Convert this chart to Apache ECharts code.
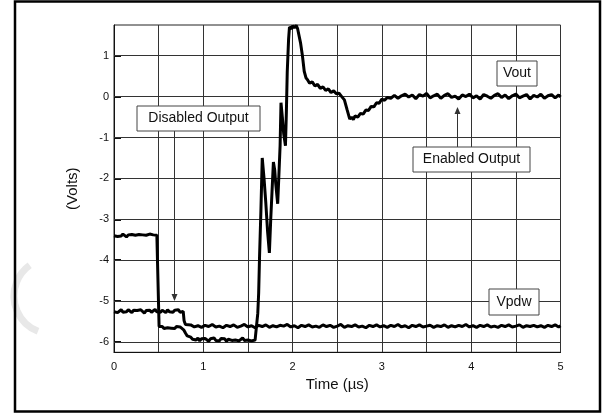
<!DOCTYPE html>
<html>
<head>
<meta charset="utf-8">
<script src="https://cdn.jsdelivr.net/npm/echarts@6/dist/echarts.min.js"></script>
<style>html,body{margin:0;padding:0;background:#fff}#c{width:615px;height:415px}</style>
</head>
<body>
<div id="c"></div>
<script>
// ---- data (time in µs, volts) ----
const xTicks = [0, 1, 2, 3, 4, 5];
const yTicks = [-6, -5, -4, -3, -2, -1, 0, 1];

const voutPoints = [
[0.00,-3.40],[0.02,-3.37],[0.04,-3.42],[0.06,-3.38],[0.08,-3.41],[0.10,-3.36],[0.12,-3.40],[0.14,-3.43],[0.16,-3.38],[0.18,-3.40],
[0.20,-3.37],[0.22,-3.41],[0.24,-3.39],[0.26,-3.42],[0.28,-3.37],[0.30,-3.40],[0.32,-3.38],[0.34,-3.42],[0.36,-3.39],[0.38,-3.41],
[0.40,-3.36],[0.42,-3.40],[0.44,-3.38],[0.46,-3.41],[0.48,-3.39],[0.50,-3.40],[0.505,-5.62],[0.52,-5.66],[0.54,-5.62],[0.56,-5.67],
[0.58,-5.63],[0.60,-5.65],[0.62,-5.61],[0.64,-5.66],[0.66,-5.63],[0.68,-5.67],[0.70,-5.62],[0.72,-5.65],[0.74,-5.63],[0.76,-5.66],
[0.78,-5.70],[0.80,-5.78],[0.82,-5.85],[0.84,-5.83],[0.86,-5.88],[0.88,-5.93],[0.90,-5.96],
[0.92,-5.95],[0.94,-5.90],[0.96,-5.97],[0.98,-5.92],[1.00,-5.96],[1.02,-5.91],[1.04,-5.95],[1.06,-5.98],[1.08,-5.92],[1.10,-5.94],
[1.12,-5.90],[1.14,-5.96],[1.16,-5.93],[1.18,-5.97],[1.20,-5.91],[1.22,-5.95],[1.24,-5.92],[1.26,-5.98],[1.28,-5.93],[1.30,-5.90],
[1.32,-5.96],[1.34,-5.92],[1.36,-5.95],[1.38,-5.91],[1.40,-5.97],[1.42,-5.93],[1.44,-5.90],[1.46,-5.96],[1.48,-5.92],[1.50,-5.95],
[1.52,-5.91],[1.54,-5.97],[1.56,-5.93],[1.58,-5.95],[1.60,-5.92],
[1.61,-5.30],[1.62,-4.80],[1.63,-3.90],[1.645,-2.80],[1.66,-1.50],[1.68,-2.00],[1.70,-2.60],[1.72,-3.30],[1.74,-3.82],[1.755,-3.00],
[1.77,-2.30],[1.785,-1.60],[1.80,-1.80],[1.81,-2.10],[1.833,-2.62],[1.845,-2.00],[1.86,-1.20],[1.87,-0.15],[1.885,-0.50],[1.90,-0.90],
[1.92,-1.20],[1.93,-0.40],[1.94,0.60],[1.955,1.40],[1.965,1.70],[1.975,1.74],[1.99,1.66],[2.00,1.73],[2.02,1.68],[2.04,1.74],
[2.055,1.67],[2.07,1.71],[2.09,1.30],[2.11,1.00],[2.13,0.62],[2.15,0.46],[2.17,0.40],[2.19,0.33],[2.22,0.36],[2.25,0.26],
[2.28,0.30],[2.31,0.20],[2.34,0.24],[2.37,0.15],[2.40,0.19],[2.43,0.10],[2.46,0.14],[2.49,0.07],[2.52,0.08],[2.55,0.00],
[2.58,-0.08],[2.61,-0.32],[2.64,-0.55],[2.66,-0.50],[2.68,-0.56],[2.70,-0.47],[2.73,-0.50],[2.76,-0.41],[2.79,-0.43],[2.82,-0.33],
[2.85,-0.34],[2.88,-0.24],[2.91,-0.25],[2.94,-0.15],[2.97,-0.16],[3.00,-0.06],[3.03,-0.09],[3.06,-0.02],[3.10,-0.04],
[3.14,0.03],[3.18,-0.04],[3.22,0.02],[3.26,0.06],[3.30,-0.01],[3.34,0.04],[3.38,-0.05],[3.42,0.05],[3.46,0.01],[3.50,0.08],
[3.54,-0.03],[3.58,0.02],[3.62,0.06],[3.66,-0.04],[3.70,0.03],[3.74,0.07],[3.78,-0.02],[3.82,0.01],[3.86,-0.06],[3.90,0.04],
[3.94,0.00],[3.98,0.06],[4.02,-0.03],[4.06,0.02],[4.10,-0.06],[4.14,0.05],[4.18,0.01],[4.22,-0.04],[4.26,0.03],[4.30,0.07],
[4.34,-0.02],[4.38,0.04],[4.42,-0.05],[4.46,0.02],[4.50,0.06],[4.54,-0.03],[4.58,0.01],[4.62,0.05],[4.66,-0.06],[4.70,0.03],
[4.74,-0.01],[4.78,0.06],[4.82,-0.04],[4.86,0.02],[4.90,0.05],[4.94,-0.03],[4.98,0.04],[5.00,-0.01]
];

const vpdwPoints = [
[0.00,-5.26],[0.02,-5.22],[0.04,-5.28],[0.06,-5.24],[0.08,-5.21],[0.10,-5.27],[0.12,-5.23],[0.14,-5.26],[0.16,-5.21],[0.18,-5.25],
[0.20,-5.28],[0.22,-5.22],[0.24,-5.26],[0.26,-5.23],[0.28,-5.27],[0.30,-5.21],[0.32,-5.25],[0.34,-5.29],[0.36,-5.23],[0.38,-5.26],
[0.40,-5.22],[0.42,-5.27],[0.44,-5.24],[0.46,-5.20],[0.48,-5.26],[0.50,-5.23],[0.52,-5.27],[0.54,-5.22],[0.56,-5.25],[0.58,-5.28],
[0.60,-5.21],[0.62,-5.26],[0.64,-5.23],[0.66,-5.27],[0.68,-5.22],[0.70,-5.25],[0.72,-5.21],[0.74,-5.27],[0.76,-5.24],[0.775,-5.25],
[0.785,-5.48],[0.80,-5.57],[0.82,-5.60],
[0.86,-5.58],[0.90,-5.63],[0.94,-5.60],[0.98,-5.64],[1.02,-5.59],[1.06,-5.62],[1.10,-5.57],[1.14,-5.63],[1.18,-5.61],[1.22,-5.65],
[1.26,-5.59],[1.30,-5.62],[1.34,-5.58],[1.38,-5.64],[1.42,-5.61],[1.46,-5.57],[1.50,-5.63],[1.54,-5.60],[1.58,-5.65],[1.62,-5.59],
[1.66,-5.62],[1.70,-5.58],[1.74,-5.64],[1.78,-5.60],[1.82,-5.63],[1.86,-5.59],[1.90,-5.61],[1.94,-5.57],[1.98,-5.63],[2.02,-5.60],
[2.06,-5.65],[2.10,-5.59],[2.14,-5.62],[2.18,-5.58],[2.22,-5.63],[2.26,-5.61],[2.30,-5.64],[2.34,-5.58],[2.38,-5.62],[2.42,-5.59],
[2.46,-5.64],[2.50,-5.61],[2.54,-5.57],[2.58,-5.64],[2.62,-5.60],[2.66,-5.62],[2.70,-5.58],[2.74,-5.63],[2.78,-5.61],[2.82,-5.65],
[2.86,-5.59],[2.90,-5.62],[2.94,-5.58],[2.98,-5.63],[3.02,-5.60],[3.06,-5.64],[3.10,-5.59],[3.14,-5.62],[3.18,-5.57],[3.22,-5.63],
[3.26,-5.60],[3.30,-5.65],[3.34,-5.59],[3.38,-5.62],[3.42,-5.58],[3.46,-5.63],[3.50,-5.61],[3.54,-5.59],[3.58,-5.64],[3.62,-5.60],
[3.66,-5.62],[3.70,-5.58],[3.74,-5.64],[3.78,-5.60],[3.82,-5.63],[3.86,-5.59],[3.90,-5.62],[3.94,-5.57],[3.98,-5.63],[4.02,-5.60],
[4.06,-5.64],[4.10,-5.59],[4.14,-5.62],[4.18,-5.58],[4.22,-5.63],[4.26,-5.61],[4.30,-5.64],[4.34,-5.59],[4.38,-5.62],[4.42,-5.58],
[4.46,-5.63],[4.50,-5.61],[4.54,-5.58],[4.58,-5.64],[4.62,-5.60],[4.66,-5.62],[4.70,-5.59],[4.74,-5.63],[4.78,-5.60],[4.82,-5.64],
[4.86,-5.59],[4.90,-5.62],[4.94,-5.58],[4.98,-5.63],[5.00,-5.60]
];

const FONT = "'Liberation Sans', Arial, sans-serif";
const chart = echarts.init(document.getElementById('c'), null, {renderer: 'canvas'});

function box(x, y, w, h, label) {
  return [
    {type: 'rect', shape: {x: x, y: y, width: w, height: h}, style: {fill: '#fff', stroke: '#444', lineWidth: 1}, z: 100},
    {type: 'text', x: x + w / 2, y: y + h / 2, style: {text: label, font: '14px ' + FONT, fill: '#111', align: 'center', verticalAlign: 'middle'}, z: 101}
  ];
}

const option = {
  animation: false,
  backgroundColor: '#fff',
  grid: {left: 114, right: 54.5, top: 25, bottom: 62.7, show: true, borderColor: '#222', borderWidth: 1, backgroundColor: 'transparent'},
  xAxis: {
    type: 'value', min: 0, max: 5, interval: 0.5,
    name: 'Time (µs)', nameLocation: 'middle', nameGap: 20,
    nameTextStyle: {fontFamily: FONT, fontSize: 15, color: '#111'},
    axisLine: {show: true, onZero: false, lineStyle: {color: '#111', width: 1}},
    axisTick: {show: false},
    splitLine: {show: true, lineStyle: {color: '#333', width: 1}},
    axisLabel: {fontFamily: FONT, fontSize: 11, color: '#111', margin: 9,
      formatter: v => (xTicks.indexOf(v) >= 0 ? String(v) : '')}
  },
  yAxis: {
    type: 'value', min: -6.25, max: 1.75,
    name: '(Volts)', nameLocation: 'middle', nameGap: 34, nameRotate: 90,
    nameTextStyle: {fontFamily: FONT, fontSize: 15, color: '#111'},
    axisLine: {show: true, onZero: false, lineStyle: {color: '#111', width: 1}},
    axisTick: {show: true, inside: true, length: 7, customValues: yTicks, lineStyle: {color: '#111', width: 2}},
    splitLine: {show: false},
    axisLabel: {fontFamily: FONT, fontSize: 11, color: '#111', margin: 5, customValues: yTicks}
  },
  series: [
    {
      name: 'grid', type: 'line', data: [], silent: true,
      markLine: {silent: true, symbol: 'none', animation: false, label: {show: false},
        lineStyle: {color: '#333', width: 1, type: 'solid'},
        data: yTicks.map(v => ({yAxis: v}))}
    },
    {name: 'Vpdw', type: 'line', data: vpdwPoints, showSymbol: false, clip: true,
      lineStyle: {color: '#000', width: 3}, z: 5},
    {name: 'Vout', type: 'line', data: voutPoints, showSymbol: false, clip: true,
      lineStyle: {color: '#000', width: 3}, z: 6}
  ],
  graphic: [
    {type: 'arc', shape: {cx: 52, cy: 296, r: 38, startAngle: Math.PI * 0.62, endAngle: Math.PI * 1.30}, style: {stroke: '#e8e8e8', lineWidth: 7, fill: null}, z: 1},
    {type: 'rect', shape: {x: 15, y: 1.5, width: 585, height: 410}, style: {fill: null, stroke: '#000', lineWidth: 2.5}, z: 200},
    {type: 'line', shape: {x1: 174.5, y1: 131, x2: 174.5, y2: 298}, style: {stroke: '#333', lineWidth: 1}, z: 90},
    {type: 'polygon', shape: {points: [[171.5, 294], [177.5, 294], [174.5, 301]]}, style: {fill: '#333'}, z: 90},
    {type: 'line', shape: {x1: 457.5, y1: 147, x2: 457.5, y2: 110}, style: {stroke: '#333', lineWidth: 1}, z: 90},
    {type: 'polygon', shape: {points: [[454.5, 114], [460.5, 114], [457.5, 107]]}, style: {fill: '#333'}, z: 90},
    ...box(137, 106, 123, 25, 'Disabled Output'),
    ...box(497, 61, 40, 25, 'Vout'),
    ...box(413, 147, 117, 25, 'Enabled Output'),
    ...box(489, 289, 50, 26, 'Vpdw')
  ]
};
chart.setOption(option);
</script>
</body>
</html>
